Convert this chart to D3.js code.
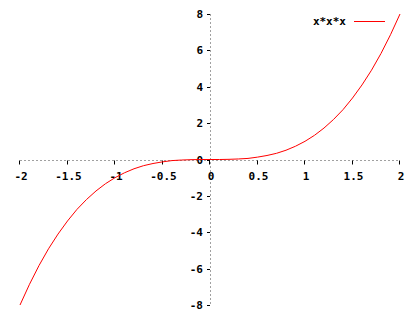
<!DOCTYPE html>
<html>
<head>
<meta charset="utf-8">
<script src="https://cdn.jsdelivr.net/npm/d3@7.9.0/dist/d3.min.js"></script>
<style>
  body { margin: 0; background: #fff; }
  svg text { font-family: "DejaVu Sans Mono", monospace; font-size: 11px; font-weight: bold; fill: #000; }
</style>
</head>
<body>
<svg id="chart" width="420" height="320"></svg>
<script>
// curve samples (x, y)
const xs = [-2, -1.9, -1.8, -1.7, -1.6, -1.5, -1.4, -1.3, -1.2, -1.1, -1, -0.9, -0.8, -0.7, -0.6, -0.5, -0.4, -0.3, -0.2, -0.1, 0,
            0.1, 0.2, 0.3, 0.4, 0.5, 0.6, 0.7, 0.8, 0.9, 1, 1.1, 1.2, 1.3, 1.4, 1.5, 1.6, 1.7, 1.8, 1.9, 2];
const ys = [-8, -6.86, -5.83, -4.91, -4.1, -3.38, -2.74, -2.2, -1.73, -1.33, -1, -0.73, -0.51, -0.34, -0.22, -0.13, -0.06, -0.03, -0.01, 0, 0,
            0, 0.01, 0.03, 0.06, 0.13, 0.22, 0.34, 0.51, 0.73, 1, 1.33, 1.73, 2.2, 2.74, 3.38, 4.1, 4.91, 5.83, 6.86, 8];
const xTicks = [-2, -1.5, -1, -0.5, 0, 0.5, 1, 1.5, 2];
const yTicks = [-8, -6, -4, -2, 0, 2, 4, 6, 8];
const seriesName = "x*x*x";

const svg = d3.select("#chart");
const x = d3.scaleLinear().domain([-2, 2]).range([20, 400]);
const y = d3.scaleLinear().domain([-8, 8]).range([305, 14]);

// zero axes, dotted grey
svg.append("line")
  .attr("x1", x(-2)).attr("x2", x(2))
  .attr("y1", Math.round(y(0)) + 0.5).attr("y2", Math.round(y(0)) + 0.5)
  .attr("stroke", "#a0a0a0").attr("stroke-dasharray", "2,2");
svg.append("line")
  .attr("x1", x(0) + 0.5).attr("x2", x(0) + 0.5)
  .attr("y1", y(8)).attr("y2", y(-8))
  .attr("stroke", "#a0a0a0").attr("stroke-dasharray", "2,2");

const y0 = Math.round(y(0)) + 0.5;

// x ticks + labels
svg.selectAll(".xt").data(xTicks).enter().append("line")
  .attr("x1", d => Math.round(x(d)) - 0.5).attr("x2", d => Math.round(x(d)) - 0.5)
  .attr("y1", y0).attr("y2", y0 + 4)
  .attr("stroke", "#000");
svg.selectAll(".xl").data(xTicks).enter().append("text")
  .attr("x", d => x(d) + 1)
  .attr("y", 180)
  .attr("text-anchor", "middle")
  .text(d => d);

// y ticks + labels
svg.selectAll(".yt").data(yTicks).enter().append("line")
  .attr("x1", x(0) - 3).attr("x2", x(0))
  .attr("y1", d => Math.round(y(d)) + 0.5).attr("y2", d => Math.round(y(d)) + 0.5)
  .attr("stroke", "#000");
svg.selectAll(".yl").data(yTicks).enter().append("text")
  .attr("x", 203)
  .attr("y", d => y(d) + 4)
  .attr("text-anchor", "end")
  .text(d => d);

// curve
const line = d3.line().x(d => x(d[0])).y(d => y(d[1]));
svg.append("path")
  .datum(d3.zip(xs, ys))
  .attr("d", line)
  .attr("fill", "none")
  .attr("stroke", "#ff0000")
  .attr("stroke-width", 1);

// legend
svg.append("text").attr("x", 346).attr("y", 25).attr("text-anchor", "end").text(seriesName);
svg.append("line")
  .attr("x1", 354).attr("x2", 385).attr("y1", 21.5).attr("y2", 21.5)
  .attr("stroke", "#ff0000");
</script>
</body>
</html>
